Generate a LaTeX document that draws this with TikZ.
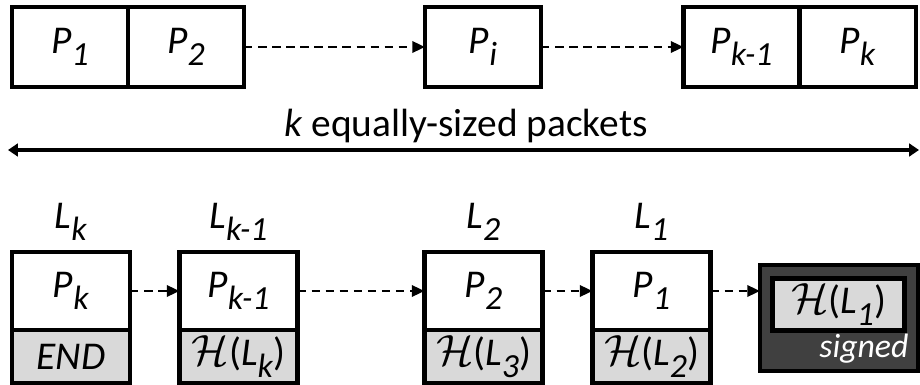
\documentclass[tikz,border=0pt]{standalone}
\usepackage{fontspec}
\setmainfont{Carlito}
\usepackage{tikz}
\usetikzlibrary{positioning,arrows.meta}

\definecolor{hashgray}{HTML}{D9D9D9}
\definecolor{signgray}{HTML}{404040}
\newcommand{\lab}[2]{\textit{#1}\raisebox{-0.3em}{\fontsize{24}{24}\selectfont\textit{#2}}}
\newcommand{\hsum}{\scalebox{1.25}{$\mathcal{H}$}}

\begin{document}
\begin{tikzpicture}[x=0.025cm, y=-0.025cm,
  pkt/.style={draw, line width=2.9pt, outer sep=0pt, inner sep=0pt, fill=white,
              minimum width=2.9cm, minimum height=2cm, font=\fontsize{28}{32}\selectfont},
  lnk/.style={draw, line width=2.9pt, outer sep=0pt, inner sep=0pt, fill=white,
              minimum width=2.95cm, minimum height=1.95cm, font=\fontsize{28}{32}\selectfont},
  hsh/.style={lnk, fill=hashgray, minimum height=1.325cm},
  lbl/.style={inner sep=0pt, font=\fontsize{28}{32}\selectfont},
  darr/.style={-{Triangle[length=9pt,width=8pt]}, line width=1.8pt, dash pattern=on 6pt off 4pt},
  larr/.style={{Triangle[length=7pt,width=9pt]}-{Triangle[length=7pt,width=9pt]}, line width=2.6pt}
]
\useasboundingbox (0,0) rectangle (920,385);

%% Packets (top row)
\node[pkt] (p1) at (70,47) {\lab{P}{1}};
\node[pkt, right=0pt of p1] (p2) {\lab{P}{2}};
\node[pkt] (pi) at (483,47) {\lab{P}{i}};
\node[pkt] (pk1) at (741.5,47) {\lab{P}{k-1}};
\node[pkt, right=0pt of pk1] (pk) {\lab{P}{k}};

\draw[darr] (p2) -- (pi);
\draw[darr] (pi) -- (pk1);

%% Span of all packets
\coordinate (spanl) at (8,150);
\coordinate (spanr) at (919,150);
\draw[larr] (spanl) -- (spanr);
\node[lbl] (spantxt) at (466,126) {\textit{k} equally-sized packets};

%% Hash chain links (bottom row)
\node[lnk] (lk) at (71,291) {\lab{P}{k}};
\node[hsh, below=0pt of lk] (hk) {\textit{END}};
\node[lnk] (lk1) at (238.5,291) {\lab{P}{k-1}};
\node[hsh, below=0pt of lk1] (hk1) {\hsum(\lab{L}{k})};
\node[lnk] (l2) at (483.5,291) {\lab{P}{2}};
\node[hsh, below=0pt of l2] (h2) {\hsum(\lab{L}{3})};
\node[lnk] (l1) at (651.5,291) {\lab{P}{1}};
\node[hsh, below=0pt of l1] (h1) {\hsum(\lab{L}{2})};

\node[lbl, above=8pt of lk] (tk) {\lab{L}{k}};
\node[lbl, above=8pt of lk1] (tk1) {\lab{L}{k-1}};
\node[lbl, above=8pt of l2] (t2) {\lab{L}{2}};
\node[lbl, above=8pt of l1] (t1) {\lab{L}{1}};

%% Signed head
\node[draw, line width=2.9pt, fill=signgray, minimum width=3.95cm, minimum height=2.65cm,
      outer sep=0pt] (sig) at (839,318) {};
\node[draw, line width=2.9pt, fill=hashgray, minimum width=3.3cm, minimum height=1.3cm,
      inner sep=0pt, outer sep=0pt, font=\fontsize{28}{32}\selectfont] (hsig) at (838.5,304.5)
  {\hsum(\lab{L}{1})};
\node[lbl, text=white, font=\fontsize{24}{28}\selectfont,
      below left=2pt and -3pt of hsig.south east] (signtxt) {\textit{signed}};

\draw[darr] (lk) -- (lk1);
\draw[darr] (lk1) -- (l2);
\draw[darr] (l2) -- (l1);
\draw[darr] (l1.east) -- (l1.east -| sig.west);
\end{tikzpicture}
\end{document}
